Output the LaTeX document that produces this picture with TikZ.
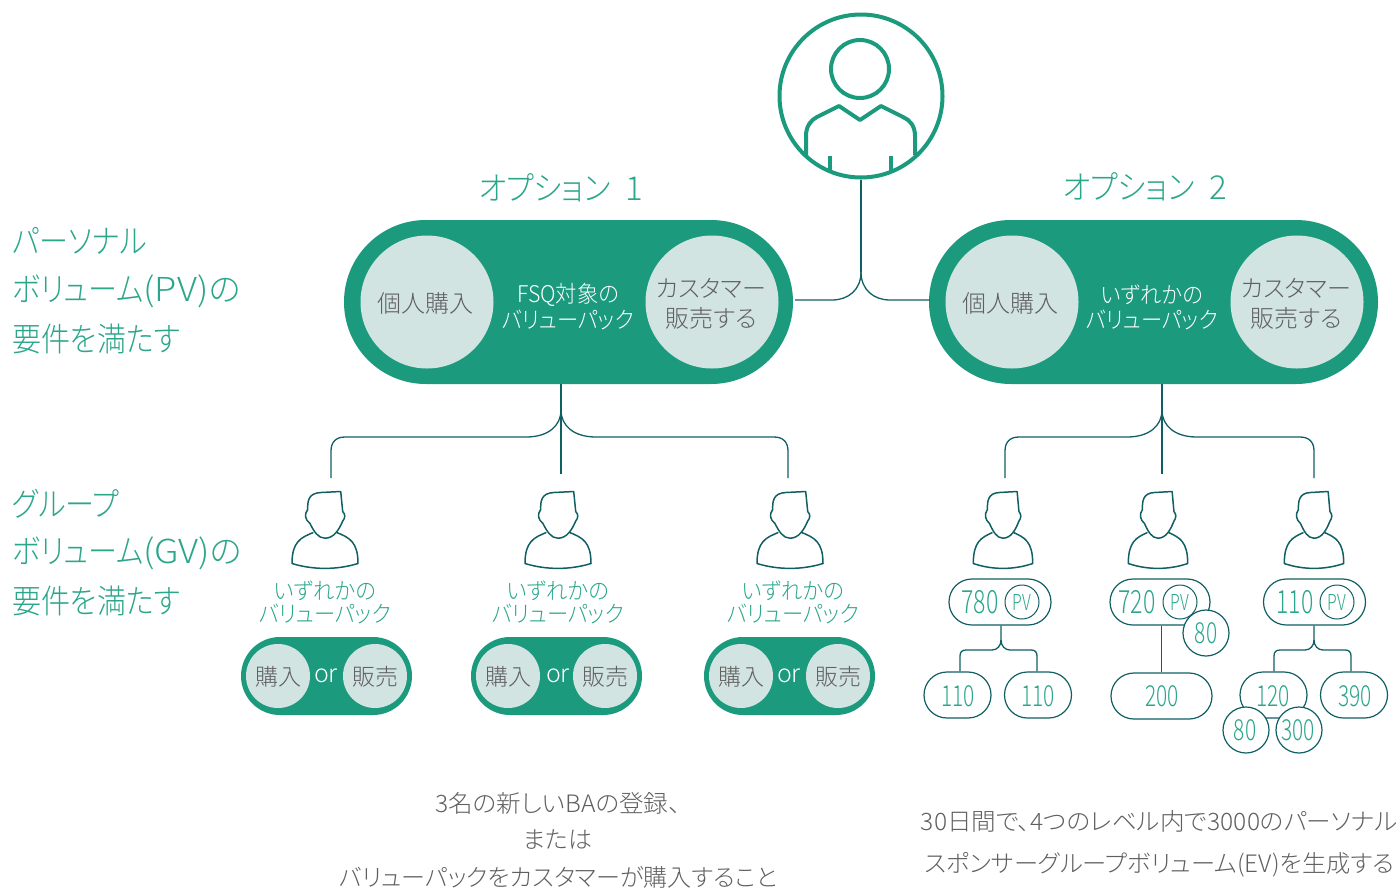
\documentclass[tikz,border=0pt]{standalone}
\usepackage{fontspec}
\setmainfont[RawFeature=+palt]{Noto Sans CJK JP Light}
\definecolor{pillgreen}{HTML}{1B9A7E}
\definecolor{softgreen}{HTML}{D2E4E1}
\definecolor{darkteal}{HTML}{0F5F63}
\definecolor{textgreen}{HTML}{2BA68B}
\definecolor{textgray}{HTML}{5F5F5F}
\newcommand{\fsz}[1]{\fontsize{#1}{#1}\selectfont}
\newcommand{\narrow}[1]{\scalebox{.72}[1]{#1}}
\newcommand{\tight}[1]{\scalebox{.925}[1]{#1}}
\newcommand{\tighter}[1]{\scalebox{.88}[1]{#1}}
\newcommand{\wider}[1]{\scalebox{1.025}[1]{#1}}
\tikzset{
link/.style={draw=darkteal,line width=1.3pt},
trunk/.style={draw=darkteal,line width=2.2pt},
bigpill/.style={fill=pillgreen,minimum width=449pt,minimum height=164pt,rounded corners=81.9pt},
bigdisc/.style={circle,fill=softgreen,minimum size=133pt,inner sep=0pt},
smallpill/.style={fill=pillgreen,minimum width=171pt,minimum height=78pt,rounded corners=38.9pt},
smalldisc/.style={circle,fill=softgreen,minimum size=64pt,inner sep=0pt},
numpill/.style={draw=darkteal,fill=white,line width=1.2pt,minimum height=46pt,rounded corners=22.9pt,inner sep=0pt},
numdisc/.style={circle,draw=darkteal,fill=white,line width=1.2pt,minimum size=46pt,inner sep=0pt},
pvdisc/.style={circle,draw=darkteal,line width=1pt,minimum size=34pt,inner sep=0pt},
bigtxt/.style={inner sep=0pt,text=textgreen,font=\fsz{33}},
sidetxt/.style={anchor=west,inner sep=0pt,text=textgreen,font=\fsz{33}},
greentxt/.style={inner sep=0pt,text=textgreen,font=\fsz{23}},
whitetxt/.style={inner sep=0pt,text=white,font=\fsz{23}},
graytxt/.style={inner sep=0pt,text=textgray,font=\fsz{23}},
grayline/.style={inner sep=0pt,text=textgray,font=\fsz{24}},
numtxt/.style={inner sep=0pt,text=textgreen,font=\fsz{32}},
personpic/.pic={
\draw[darkteal,line width=1.5pt,line join=round,fill=white]
  (15.7,0) -- (17.7,20) .. controls (20.5,23) and (20.5,26) .. (17.5,30)
  .. controls (14,38) and (9,46.7) .. (0,46.7) .. controls (-7,46.7) and (-11,40) .. (-15,32)
  .. controls (-20,28) and (-21,23) .. (-17.3,18) .. controls (-17.5,10) and (-17,1.5) .. (-4,1) -- cycle;
\draw[darkteal,line width=1.5pt,line join=round]
  (-11.7,41) .. controls (-24,46) and (-33,50) .. (-33,72) .. controls (-12,78.5) and (12,78.5) .. (33,72)
  .. controls (33,50) and (24,46) .. (11.7,41);
}
}
\begin{document}
\begin{tikzpicture}[x=1pt,y=-1pt]
\useasboundingbox (0,0) rectangle (1400,887);

\node[circle,draw=pillgreen,line width=4pt,minimum size=163pt,inner sep=0pt] (topring) at (861,96) {};
\node[circle,draw=pillgreen,line width=4pt,minimum size=58pt,inner sep=0pt] (tophead) at (860,69) {};
\draw[pillgreen,line width=4pt,line join=round] (806,155) -- (806,136) .. controls (806,126) and (811,120) .. (817,117)
  -- (839,106) -- (860,120) -- (881,106) -- (903,117) .. controls (910,120) and (915,126) .. (915,136) -- (915,155);
\draw[pillgreen,line width=4pt] (830,156) -- (830,172);
\draw[pillgreen,line width=4pt] (891,156) -- (891,172);

\node[bigtxt] (titleA) at (561,188) {\scalebox{.91}[1]{オプション}\hspace{15pt}1};
\node[bigtxt] (titleB) at (1145,187) {\scalebox{.91}[1]{オプション}\hspace{15pt}2};

\node[sidetxt] (pvA) at (12,241) {\tighter{パーソナル}};
\node[sidetxt] (pvB) at (12,291) {\tighter{ボリューム}\scalebox{1.1}[1]{(PV)}の};
\node[sidetxt] (pvC) at (12,339) {\tighter{要件を満たす}};
\node[sidetxt] (gvA) at (12,504) {\tighter{グループ}};
\node[sidetxt] (gvB) at (12,553) {\tighter{ボリューム}\scalebox{1.1}[1]{(GV)}の};
\node[sidetxt] (gvC) at (12,601) {\tighter{要件を満たす}};

\node[bigpill] (optA) at (568.5,302) {};
\node[bigpill] (optB) at (1153.5,302) {};
\node[bigdisc] (buyA) at (427,302) {};
\node[bigdisc] (sellA) at (712,302) {};
\node[bigdisc] (buyB) at (1012,302) {};
\node[bigdisc] (sellB) at (1297,302) {};
\node[grayline] at (425,303) {個人購入};
\node[grayline] at (711,288) {カスタマー};
\node[grayline] at (711,318) {販売する};
\node[grayline] at (1010,303) {個人購入};
\node[grayline] at (1296,288) {カスタマー};
\node[grayline] at (1296,318) {販売する};
\node[whitetxt] at (568,295) {\tight{FSQ対象の}};
\node[whitetxt] at (568,320) {\tight{バリューパック}};
\node[whitetxt] at (1152,295) {\tight{いずれかの}};
\node[whitetxt] at (1152,320) {\tight{バリューパック}};

\coordinate (fork) at (861,272);
\coordinate (joinA) at (795,300);
\coordinate (joinB) at (930,300);
\draw[link] (topring.south) -- (fork);
\draw[link] (fork) .. controls (861,290) and (848,300) .. (832,300) -- (joinA);
\draw[link] (fork) .. controls (861,290) and (874,300) .. (890,300) -- (joinB);

\coordinate (forkA) at (561,410);
\coordinate (endAa) at (331,478);
\coordinate (endAb) at (561,474);
\coordinate (endAc) at (788,478);
\draw[trunk] (optA.south -| forkA) -- (endAb);
\draw[link] (forkA) .. controls (561,426) and (548,437) .. (526,437) -- (345,437) .. controls (336,437) and (331,442) .. (331,451) -- (endAa);
\draw[link] (forkA) .. controls (561,426) and (574,437) .. (596,437) -- (774,437) .. controls (783,437) and (788,442) .. (788,451) -- (endAc);

\coordinate (forkB) at (1162,410);
\coordinate (endBa) at (1005,478);
\coordinate (endBb) at (1162,474);
\coordinate (endBc) at (1314,478);
\draw[trunk] (optB.south -| forkB) -- (endBb);
\draw[link] (forkB) .. controls (1162,426) and (1149,437) .. (1127,437) -- (1019,437) .. controls (1010,437) and (1005,442) .. (1005,451) -- (endBa);
\draw[link] (forkB) .. controls (1162,426) and (1175,437) .. (1197,437) -- (1300,437) .. controls (1309,437) and (1314,442) .. (1314,451) -- (endBc);

\pic at (325,491.5) {personpic};
\pic at (558,491.5) {personpic};
\pic at (790,491.5) {personpic};
\pic[xscale=.9] at (1003,491.5) {personpic};
\pic[xscale=.9] at (1158,491.5) {personpic};
\pic[xscale=.9] at (1314,491.5) {personpic};

\node[greentxt] at (325,591) {\tight{いずれかの}};
\node[greentxt] at (325,614) {\tight{バリューパック}};
\node[greentxt] at (558,591) {\tight{いずれかの}};
\node[greentxt] at (558,614) {\tight{バリューパック}};
\node[greentxt] at (793,591) {\tight{いずれかの}};
\node[greentxt] at (793,614) {\tight{バリューパック}};

\node[smallpill] (chA) at (326.5,676) {};
\node[smalldisc] (chAa) at (278,676) {};
\node[smalldisc] (chAb) at (375,676) {};
\node[graytxt] at (278,677) {購入};
\node[graytxt] at (375,677) {販売};
\node[whitetxt,font=\fsz{25}] at (326,676) {or};
\node[smallpill] (chB) at (556.5,676) {};
\node[smalldisc] (chBa) at (508,676) {};
\node[smalldisc] (chBb) at (605,676) {};
\node[graytxt] at (508,677) {購入};
\node[graytxt] at (605,677) {販売};
\node[whitetxt,font=\fsz{25}] at (558,676) {or};
\node[smallpill] (chC) at (789.5,676) {};
\node[smalldisc] (chCa) at (741,676) {};
\node[smalldisc] (chCb) at (838,676) {};
\node[graytxt] at (741,677) {購入};
\node[graytxt] at (838,677) {販売};
\node[whitetxt,font=\fsz{25}] at (789,676) {or};

\node[numpill,minimum width=102pt] (pvX) at (1000,602) {};
\node[numpill,minimum width=67pt] (pvXa) at (957.5,695) {};
\node[numpill,minimum width=67pt] (pvXb) at (1038,695) {};
\coordinate (forkX) at (1001,640);
\draw[link] (pvX.south -| forkX) -- (forkX) .. controls (1001,646) and (997,650) .. (992,650) -- (966,650) .. controls (962,650) and (960,652) .. (960,656) -- (pvXa.north -| 960,0);
\draw[link] (forkX) .. controls (1001,646) and (1005,650) .. (1010,650) -- (1031,650) .. controls (1035,650) and (1037,652) .. (1037,656) -- (pvXb.north -| 1037,0);
\node[pvdisc] (pvXc) at (1022,602) {};
\node[numtxt] at (980,602) {\narrow{780}};
\node[inner sep=0pt,text=textgreen,font=\fsz{22}] at (1022,602) {\narrow{PV}};
\node[numtxt,font=\fsz{29}] at (958,696) {\narrow{110}};
\node[numtxt,font=\fsz{29}] at (1038,696) {\narrow{110}};

\node[numpill,minimum width=100pt] (pvY) at (1160,602) {};
\node[numpill,minimum width=101pt] (pvYa) at (1161.5,696) {};
\draw[link] (pvY.south -| 1161.5,0) -- (pvYa.north -| 1161.5,0);
\node[pvdisc] (pvYb) at (1180,602) {};
\node[numdisc] (pvYc) at (1206,633) {};
\node[numtxt] at (1137,602) {\narrow{720}};
\node[inner sep=0pt,text=textgreen,font=\fsz{22}] at (1180,602) {\narrow{PV}};
\node[numtxt,font=\fsz{29}] at (1206,633) {\narrow{80}};
\node[numtxt,font=\fsz{29}] at (1162,696) {\narrow{200}};

\node[numpill,minimum width=102pt] (pvZ) at (1314.5,602) {};
\node[numpill,minimum width=67pt] (pvZa) at (1273.5,695) {};
\node[numpill,minimum width=67pt] (pvZb) at (1354,695) {};
\coordinate (forkZ) at (1314,640);
\draw[link] (pvZ.south -| forkZ) -- (forkZ) .. controls (1314,646) and (1310,650) .. (1305,650) -- (1280,650) .. controls (1276,650) and (1274,652) .. (1274,656) -- (pvZa.north -| 1274,0);
\draw[link] (forkZ) .. controls (1314,646) and (1318,650) .. (1323,650) -- (1345,650) .. controls (1349,650) and (1351,652) .. (1351,656) -- (pvZb.north -| 1351,0);
\node[pvdisc] (pvZc) at (1337,602) {};
\node[numdisc] (pvZd) at (1246,730) {};
\node[numdisc] (pvZe) at (1299,730) {};
\node[numtxt] at (1295,602) {\narrow{110}};
\node[inner sep=0pt,text=textgreen,font=\fsz{22}] at (1337,602) {\narrow{PV}};
\node[numtxt,font=\fsz{29}] at (1273,696) {\narrow{120}};
\node[numtxt,font=\fsz{29}] at (1355,696) {\narrow{390}};
\node[numtxt,font=\fsz{29}] at (1245,730) {\narrow{80}};
\node[numtxt,font=\fsz{29}] at (1298,730) {\narrow{300}};

\node[grayline] at (558,803) {\wider{3名の新しいBAの登録、}};
\node[grayline] at (558,840) {または};
\node[grayline] at (558,877) {バリューパックをカスタマーが購入すること};
\node[grayline] at (1159.5,821) {\wider{30日間で、4つのレベル内で3000のパーソナル}};
\node[grayline] at (1159.5,865) {\scalebox{1.01}[1]{スポンサーグループボリューム(EV)を生成する}};
\end{tikzpicture}
\end{document}
